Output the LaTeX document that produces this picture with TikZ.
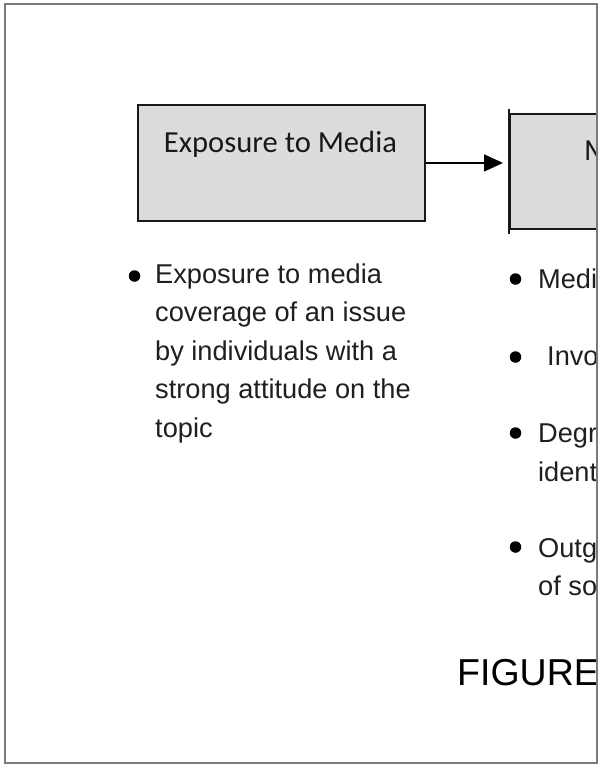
\documentclass[tikz,border=0pt]{standalone}
\usepackage{fontspec}
\setmainfont{Liberation Sans}
\newfontfamily\boxfont{Carlito}
\usetikzlibrary{arrows.meta}
\definecolor{boxgray}{HTML}{DCDCDC}
\definecolor{framegray}{HTML}{7A7A7A}
\begin{document}
\begin{tikzpicture}[x=1pt,y=-1pt,
  stagebox/.style={draw=black!90, line width=1.9pt, fill=boxgray, inner sep=0pt, anchor=north west},
  boxlabel/.style={font=\boxfont\fontsize{30.6}{36}\selectfont, text=black!90, inner sep=0pt},
  bodytext/.style={anchor=base west, inner sep=0pt, font=\fontsize{27.2}{38}\selectfont, text=black!88},
  dot/.style={circle, fill=black, inner sep=0pt, minimum size=11.5pt},
  flow/.style={-{Triangle[length=19pt,width=17pt]}, line width=1.6pt, shorten >=6pt},
]
\useasboundingbox (0,0) rectangle (599,765);
\begin{scope}
  \clip (4.5,4.5) rectangle (596.5,762.5);
  % the two stage boxes
  \node[stagebox, minimum width=287pt, minimum height=116pt] (expo) at (137,104) {};
  \node[stagebox, minimum width=300pt, minimum height=115pt] (moder) at (509,113) {};
  \draw[line width=1.9pt, black!90] ([yshift=4pt]moder.north west) -- ([yshift=-4pt]moder.south west);
  \node[boxlabel, anchor=base] (expolabel) at (280.5,152) {Exposure to Media};
  \node[boxlabel, anchor=base west] (moderlabel) at (584,160) {M};
  % connector
  \draw[flow] (expo.east) -- (expo.east -| moder.west);
  % bullet list under the first box
  \node[dot] (ldot) at (134.5,276) {};
  \foreach \t [count=\i] in {Exposure to media, coverage of an issue, by individuals with a, strong attitude on the, topic}
    \node[bodytext] (lline\i) at (155,{283+38.6*(\i-1)}) {\t};
  % bullet list under the second box
  \node[dot] (rdot1) at (515.5,279) {};
  \node[dot] (rdot2) at (515.5,357) {};
  \node[dot] (rdot3) at (515.5,433) {};
  \node[dot] (rdot4) at (515.5,547) {};
  \node[bodytext] (rline1) at (538,288) {Media};
  \node[bodytext] (rline2) at (547,365) {Involv};
  \node[bodytext] (rline3) at (538,442) {Degre};
  \node[bodytext] (rline4) at (538,481) {identi};
  \node[bodytext] (rline5) at (538,557) {Outgr};
  \node[bodytext] (rline6) at (538,595) {of soc};
  % caption
  \node[anchor=base west, inner sep=0pt, font=\fontsize{37.5}{40}\selectfont] (caption) at (457,685) {FIGURE};
\end{scope}
\draw[framegray, line width=2pt] (4.5,4.5) rectangle (596.5,762.5);
\end{tikzpicture}
\end{document}
